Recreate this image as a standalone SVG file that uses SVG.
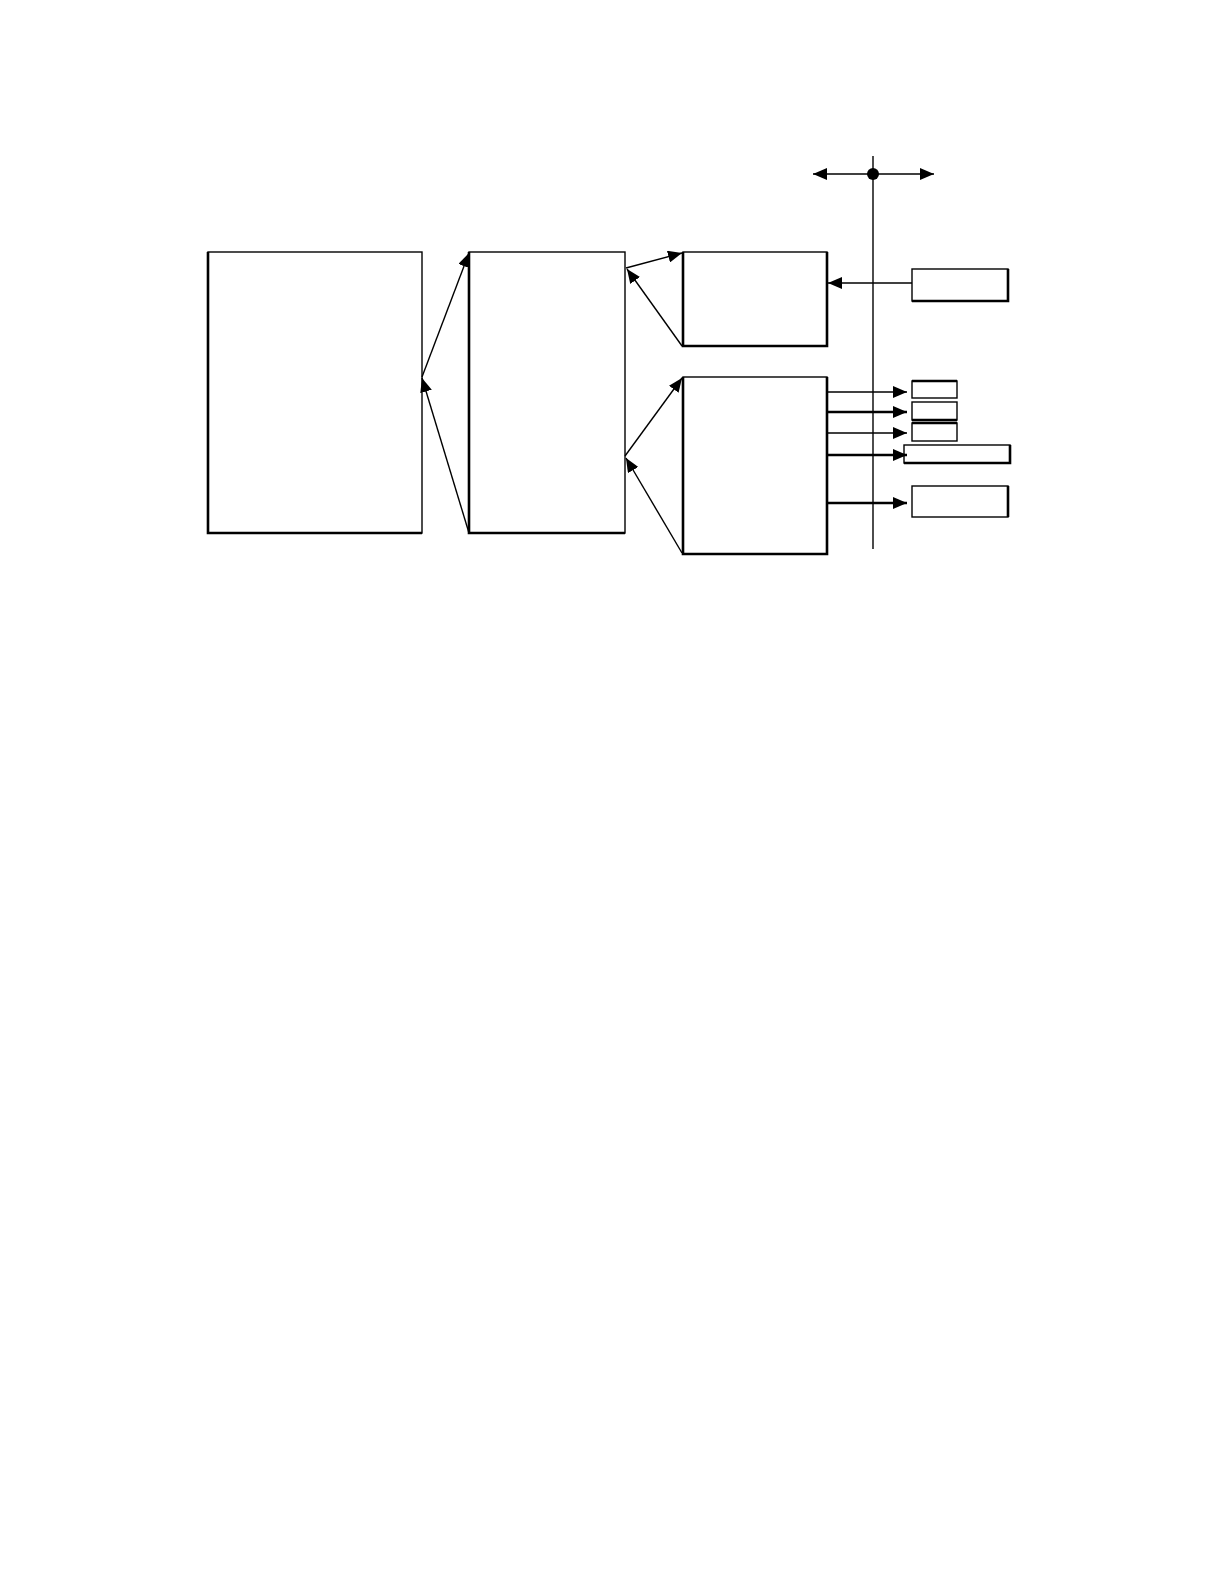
<svg xmlns="http://www.w3.org/2000/svg" width="1224" height="1584" viewBox="0 0 1224 1584">
<defs>
<style>
.box{fill:#fff;stroke:#000;stroke-width:1.4}
.edge{fill:none;stroke:#000;stroke-width:2.6}
.c{fill:none;stroke:#000;stroke-width:1.4}
.ct{fill:none;stroke:#000;stroke-width:2.6}
</style>
<marker id="ah" markerUnits="userSpaceOnUse" viewBox="0 0 14 12" refX="14" refY="6" markerWidth="14" markerHeight="12" orient="auto-start-reverse">
<path d="M0,0 L14,6 L0,12 z" fill="#000"/>
</marker>
</defs>
<rect width="1224" height="1584" fill="#fff"/>
<g id="node-1">
<rect class="box" x="208" y="252" width="214" height="281"/>
<path class="edge" d="M208,252 V533 H422"/>
</g>
<g id="node-2">
<rect class="box" x="469" y="252" width="156" height="281"/>
<path class="edge" d="M469,252 V533 H625"/>
</g>
<g id="node-3">
<rect class="box" x="683" y="252" width="144" height="94"/>
<path class="edge" d="M683,252 V346 H827 V252"/>
</g>
<g id="node-4">
<rect class="box" x="683" y="377" width="144" height="177"/>
<path class="edge" d="M683,377 V554 H827 V377"/>
</g>
<g id="node-5">
<rect class="box" x="912" y="269" width="96" height="32"/>
<path class="edge" d="M912,301 H1008 V269"/>
</g>
<g id="node-6">
<rect class="box" x="912" y="381" width="45" height="17"/>
<path class="edge" d="M912,381 H957"/>
</g>
<g id="node-7">
<rect class="box" x="912" y="402" width="45" height="18"/>
<path class="edge" d="M912,420 H957"/>
</g>
<g id="node-8">
<rect class="box" x="912" y="423" width="45" height="18"/>
<path class="edge" d="M912,423 H957"/>
</g>
<g id="node-9">
<rect class="box" x="904" y="445" width="106" height="18"/>
<path class="edge" d="M904,463 H1010 V445"/>
</g>
<g id="node-10">
<rect class="box" x="912" y="486" width="96" height="31"/>
<path class="edge" d="M1008,486 V517"/>
</g>
<g id="connectors">
<path class="c" d="M422,377 L469,253" marker-end="url(#ah)"/>
<path class="c" d="M469,533 L422,378" marker-end="url(#ah)"/>
<path class="c" d="M626,268 L682,253" marker-end="url(#ah)"/>
<path class="c" d="M682,346 L627,269" marker-end="url(#ah)"/>
<path class="c" d="M625,456 L682,378" marker-end="url(#ah)"/>
<path class="c" d="M682,553 L626,458" marker-end="url(#ah)"/>
<path class="c" d="M912,283 L828,283" marker-end="url(#ah)"/>
<path class="c" d="M813,174 L934,174" marker-start="url(#ah)" marker-end="url(#ah)"/>
<path class="c" d="M873,156 V549"/>
<circle cx="873" cy="174" r="6" fill="#000"/>
<path class="c" d="M827,392 L907,392" marker-end="url(#ah)"/>
<path class="ct" d="M827,412 L907,412" marker-end="url(#ah)"/>
<path class="c" d="M827,433 L907,433" marker-end="url(#ah)"/>
<path class="ct" d="M827,455 L907,455" marker-end="url(#ah)"/>
<path class="ct" d="M827,503 L907,503" marker-end="url(#ah)"/>
</g>
</svg>
